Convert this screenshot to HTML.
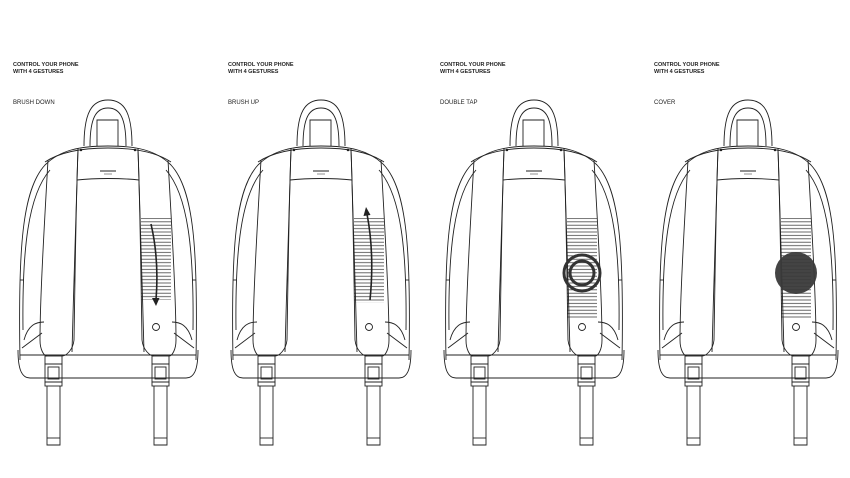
<!DOCTYPE html>
<html><head><style>
html,body{margin:0;padding:0;background:#fff;width:850px;height:478px;overflow:hidden}
svg{display:block}
text{font-family:"Liberation Sans",Arial,sans-serif;fill:#222}
.h{font-size:5.5px;font-weight:bold}
.s{font-size:6px}
</style></head><body>
<svg width="850" height="478" viewBox="0 0 850 478" xmlns="http://www.w3.org/2000/svg">
<defs>
<pattern id="st" width="4" height="3.4" patternUnits="userSpaceOnUse"><rect width="4" height="3.4" fill="#fff"/><line x1="0" y1="0.8" x2="4" y2="0.8" stroke="#444" stroke-width="0.8"/></pattern>
<g id="bp" fill="none" stroke="#222" stroke-width="0.9">
 <path d="M84 146 C84 112 92 100 108 100 C124 100 132 112 132 146"/>
 <path d="M90 146 C90 118 96 108 108 108 C120 108 126 118 126 146"/>
 <path d="M97 146 V120 H118 V146"/>
 <path d="M20 360 C18 250 22 190 45 165 C60 150 80 146 108 146 C136 146 156 150 171 165 C194 190 198 250 196 360"/>
 <path d="M23 330 C22 250 28 195 50 170"/>
 <path d="M193 330 C194 250 188 195 166 170"/>
 <path d="M45 162 C60 152 82 148 108 148 C134 148 156 152 171 162"/>
 <path d="M18 350 C18 370 22 378 30 378 H186 C194 378 198 370 198 350"/>
 <path d="M20 355 H196"/>
 <path d="M24 340 C28 325 36 322 44 322"/>
 <path d="M22 348 L42 333"/>
 <path d="M192 340 C188 325 180 322 172 322"/>
 <path d="M194 348 L174 333"/>
 <path d="M20 280 H24"/><path d="M196 280 H192"/>
 <path d="M78 148 C76 200 74 280 72 352"/>
 <path d="M138 148 C140 200 142 280 144 352"/>
 <path d="M77 180 C95 178 121 178 139 180"/>
 <path d="M78 150 C76 200 75 280 74 340 C73 350 66 356 62 356"/>
 <path d="M48 160 C44 230 40 300 40 340 C40 350 44 356 47 356"/>
 <path d="M138 150 C140 200 141 280 142 340 C143 350 150 356 154 356"/>
 <path d="M168 160 C172 230 176 300 176 340 C176 350 172 356 169 356"/>
 <rect x="45" y="356" width="17" height="8"/><rect x="45" y="364" width="17" height="18"/><rect x="48" y="367" width="11" height="12"/><rect x="45" y="382" width="17" height="4"/>
 <rect x="152" y="356" width="17" height="8"/><rect x="152" y="364" width="17" height="18"/><rect x="155" y="367" width="11" height="12"/><rect x="152" y="382" width="17" height="4"/>
 <path d="M47 386 V445 H60 V386"/><path d="M47 438 H60"/>
 <path d="M154 386 V445 H167 V386"/><path d="M154 438 H167"/>
 <circle cx="156" cy="327" r="3.5"/>
 <line x1="100" y1="171" x2="116" y2="171" stroke-width="1"/>
 <line x1="104" y1="174" x2="112" y2="174" stroke-width="0.5"/>
 <circle cx="81" cy="150" r="0.8" fill="#222"/><circle cx="135" cy="150" r="0.8" fill="#222"/>
</g>
</defs>

<g>
<text class="h" x="13" y="66">CONTROL YOUR PHONE</text>
<text class="h" x="13" y="73">WITH 4 GESTURES</text>
<text class="s" x="13" y="104">BRUSH DOWN</text>
<rect x="141" y="218" width="30" height="82" fill="url(#st)"/>
<use href="#bp"/>
<path d="M151 224 C157 250 158 275 156 300" fill="none" stroke="#222" stroke-width="1.6"/>
<path d="M152 298 L156 306 L159.5 298 Z" fill="#222"/>
</g>
<g transform="translate(213,0)">
<text class="h" x="15" y="66">CONTROL YOUR PHONE</text>
<text class="h" x="15" y="73">WITH 4 GESTURES</text>
<text class="s" x="15" y="104">BRUSH UP</text>
<rect x="141" y="218" width="30" height="85" fill="url(#st)"/>
<use href="#bp"/>
<path d="M157 300 C160 270 159 240 154 214" fill="none" stroke="#222" stroke-width="1.6"/>
<path d="M150.5 216 L153 207 L157.5 215 Z" fill="#222"/>
</g>
<g transform="translate(426,0)">
<text class="h" x="14" y="66">CONTROL YOUR PHONE</text>
<text class="h" x="14" y="73">WITH 4 GESTURES</text>
<text class="s" x="14" y="104">DOUBLE TAP</text>
<rect x="141" y="218" width="30" height="100" fill="url(#st)"/>
<use href="#bp"/>
<circle cx="156" cy="273" r="18" fill="none" stroke="#333" stroke-width="3"/>
<circle cx="156" cy="273" r="12" fill="none" stroke="#333" stroke-width="3"/>
</g>
<g transform="translate(640,0)">
<text class="h" x="14" y="66">CONTROL YOUR PHONE</text>
<text class="h" x="14" y="73">WITH 4 GESTURES</text>
<text class="s" x="14" y="104">COVER</text>
<rect x="141" y="218" width="30" height="100" fill="url(#st)"/>
<use href="#bp"/>
<circle cx="156" cy="273" r="21" fill="#3a3a3a" opacity="0.95"/>
</g>
</svg>
</body></html>
